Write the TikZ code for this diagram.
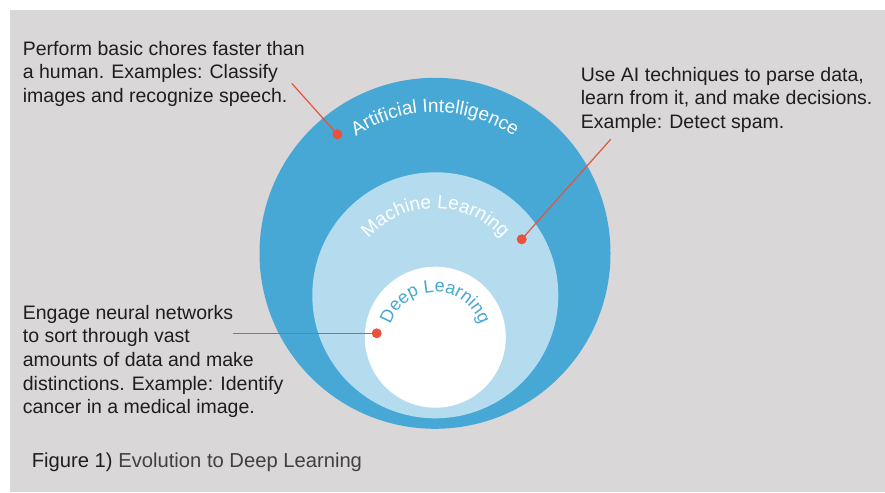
\documentclass[tikz,border=0pt]{standalone}
\usepackage{fontspec}
\setmainfont{Liberation Sans}
\usetikzlibrary{decorations.text,calc}
\definecolor{bggray}{HTML}{D9D7D8}
\definecolor{aiblue}{HTML}{47A8D5}
\definecolor{mlblue}{HTML}{B4DCEE}
\definecolor{dotred}{HTML}{E8533B}
\definecolor{txt}{HTML}{1E1E1E}
\definecolor{captxt}{HTML}{404040}
\newcommand{\bodyfont}{\fontsize{19.5}{23.6}\selectfont}
\begin{document}
\begin{tikzpicture}[x=1pt,y=1pt,
  ring/.style={circle, inner sep=0pt, draw=none},
  reddot/.style={circle, fill=dotred, inner sep=0pt, minimum size=10pt},
  leader/.style={draw=dotred, line width=1.2pt},
  note/.style={anchor=north west, align=left, inner sep=0pt, text=txt, font=\bodyfont},
  arclabel/.style={decorate, decoration={text along path, text align=center, text color=#1}}
]
\useasboundingbox (0,0) rectangle (885,492);
\fill[white] (0,0) rectangle (885,492);
\fill[bggray] (10,0) rectangle (885,482);

\node[ring, fill=aiblue, minimum size=351pt] (ai) at (435,238.7) {};
\node[ring, fill=mlblue, minimum size=246pt] (ml) at (435.3,196.7) {};
\node[ring, fill=white, minimum size=141pt] (dl) at (435.3,154.8) {};

\path[arclabel=white, decoration={text={|\fontsize{19}{19}\selectfont|Artificial Intelligence}}]
  ([shift={(160:141)}]ai.center) arc[start angle=160, end angle=20, radius=141];
\path[arclabel=white, decoration={text={|\fontsize{19}{19}\selectfont|Machine Learning}}]
  ([shift={(170:89)}]$(ml.center)+(0,-2)$) arc[start angle=170, end angle=10, radius=89];
\path[arclabel=aiblue, decoration={text={|\fontsize{18}{18}\selectfont|Deep Learning}}]
  ([shift={(180:47)}]$(dl.center)+(0,-2)$) arc[start angle=180, end angle=0, radius=47];

\node[reddot] (aidot) at (337.3,357.7) {};
\node[reddot] (mldot) at (521.7,252.7) {};
\node[reddot] (dldot) at (376.7,158.7) {};
\coordinate (aiend) at (291.7,408.7);
\coordinate (mlend) at (610.7,352.7);
\coordinate (dlend) at (232.7,158.7);
\draw[leader] (aiend) -- (aidot.center);
\draw[leader] (mlend) -- (mldot.center);
\draw[leader] (dlend) -- (dldot.center);

\node[note] (ainote) at (22.7,451.3) {Perform basic chores faster than\\a human. Examples: Classify\\images and recognize speech.};
\node[note] (mlnote) at (580.7,425) {Use AI techniques to parse data,\\learn from it, and make decisions.\\Example: Detect spam.};
\node[note] (dlnote) at (22.7,187) {Engage neural networks\\to sort through vast\\amounts of data and make\\distinctions. Example: Identify\\cancer in a medical image.};

\node[anchor=base west, inner sep=0pt, font=\fontsize{20.2}{24}\selectfont] (caption) at (31.7,24.7)
  {\textcolor{txt}{Figure 1)} \textcolor{captxt}{Evolution to Deep Learning}};
\end{tikzpicture}
\end{document}
